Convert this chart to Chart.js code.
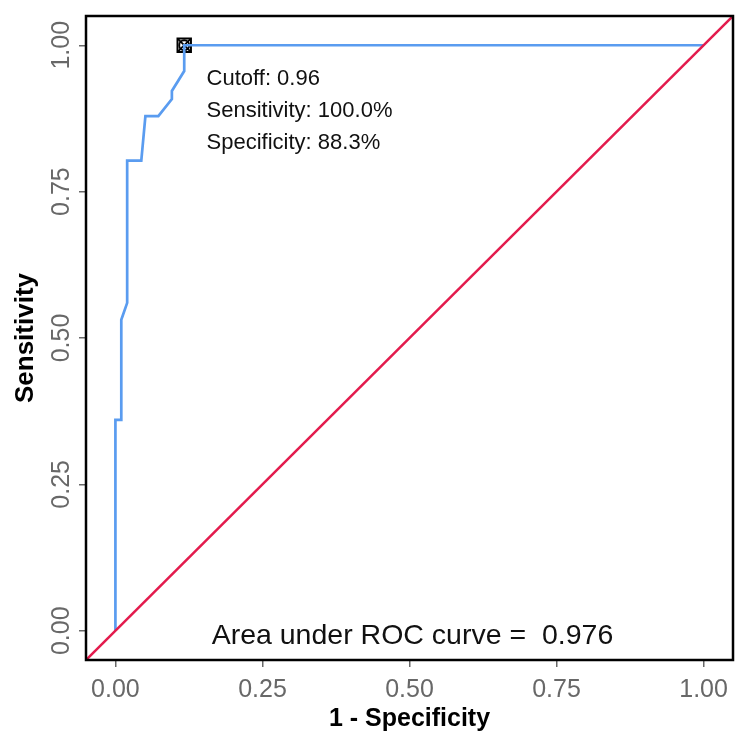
<!DOCTYPE html>
<html>
<head>
<meta charset="utf-8">
<script src="https://cdn.jsdelivr.net/npm/chart.js@4.4.1/dist/chart.umd.min.js"></script>
<style>
  html, body { margin: 0; padding: 0; background: #fff; }
  #wrap { width: 750px; height: 750px; }
</style>
</head>
<body>
<div id="wrap"><canvas id="roc"></canvas></div>
<script>
/* ROC curve, ggplot-style look */

// ROC curve steps (1 - specificity, sensitivity)
const rocFpr = [0, 0, 0.01, 0.01, 0.02, 0.02, 0.044, 0.051, 0.073, 0.096, 0.096, 0.117, 0.117, 1];
const rocTpr = [0, 0.36, 0.36, 0.531, 0.56, 0.803, 0.803, 0.879, 0.879, 0.908, 0.922, 0.956, 1, 1];

// chance line
const diagX = [-0.05, 1.05];
const diagY = [-0.05, 1.05];

// best cutoff point
const cutoffPoint = { x: 0.117, y: 1.0 };

const tickVals = [0, 0.25, 0.5, 0.75, 1];
const tickLabels = ['0.00', '0.25', '0.50', '0.75', '1.00'];

const infoLines = ['Cutoff: 0.96', 'Sensitivity: 100.0%', 'Specificity: 88.3%'];
const aucText = 'Area under ROC curve =  0.976';

const FONT = '"Liberation Sans", Arial, Helvetica, sans-serif';
const BLUE = '#5a9cf0';
const RED = '#e31b4d';
const GREY = '#686868';

const zip = (xs, ys) => xs.map((x, i) => ({ x, y: ys[i] }));

const setTicks = (scale) => { scale.ticks = tickVals.map((v) => ({ value: v })); };

// panel border, rotated y tick labels and text annotations
const decorations = {
  id: 'decorations',
  afterDraw(chart) {
    const { ctx, chartArea: a, scales: { x, y } } = chart;
    ctx.save();
    ctx.strokeStyle = '#000';
    ctx.lineWidth = 2.5;
    ctx.strokeRect(a.left, a.top, a.right - a.left, a.bottom - a.top);

    ctx.fillStyle = GREY;
    ctx.font = `25px ${FONT}`;
    ctx.textAlign = 'center';
    ctx.textBaseline = 'middle';
    tickVals.forEach((v, i) => {
      ctx.save();
      ctx.translate(62, y.getPixelForValue(v));
      ctx.rotate(-Math.PI / 2);
      ctx.fillText(tickLabels[i], 0, 0);
      ctx.restore();
    });

    ctx.fillStyle = '#111';
    ctx.textAlign = 'left';
    ctx.textBaseline = 'alphabetic';
    ctx.font = `22px ${FONT}`;
    infoLines.forEach((t, i) => {
      ctx.fillText(t, x.getPixelForValue(0.155), y.getPixelForValue(0.932) + i * 32);
    });

    ctx.font = `28.5px ${FONT}`;
    ctx.textAlign = 'center';
    ctx.fillText(aucText, x.getPixelForValue(0.505), y.getPixelForValue(-0.022));
    ctx.restore();
  },
};

new Chart(document.getElementById('roc'), {
  type: 'scatter',
  data: {
    datasets: [
      {
        data: zip(diagX, diagY), showLine: true, borderColor: RED, borderWidth: 2.5,
        pointRadius: 0, tension: 0,
      },
      {
        data: zip(rocFpr, rocTpr), showLine: true, borderColor: BLUE, borderWidth: 2.7,
        pointRadius: 0, tension: 0,
      },
      {
        data: [cutoffPoint], pointStyle: 'rect', pointRadius: 9.5,
        pointBorderColor: '#000', pointBackgroundColor: 'rgba(0,0,0,0)', pointBorderWidth: 2,
      },
      {
        data: [cutoffPoint], pointStyle: 'crossRot', pointRadius: 9,
        pointBorderColor: '#000', pointBorderWidth: 1.8,
      },
      {
        data: [cutoffPoint], pointStyle: 'circle', pointRadius: 5,
        pointBorderColor: '#000', pointBackgroundColor: 'rgba(0,0,0,0)', pointBorderWidth: 1.8,
      },
    ],
  },
  options: {
    responsive: true, maintainAspectRatio: false, animation: false,
    layout: { padding: { top: 16, right: 17, left: 0, bottom: 0 } },
    plugins: { legend: { display: false }, tooltip: { enabled: false } },
    scales: {
      x: {
        type: 'linear', min: -0.05, max: 1.05,
        afterBuildTicks: setTicks,
        afterFit: (s) => { s.height = 90; },
        grid: { drawOnChartArea: false, drawTicks: true, tickLength: 7, color: GREY, lineWidth: 1.5 },
        border: { display: false },
        ticks: {
          color: GREY, font: { family: FONT, size: 25 }, padding: 8, maxRotation: 0,
          callback: (v) => tickLabels[tickVals.indexOf(v)] ?? '',
        },
        title: {
          display: true, text: '1 - Specificity', color: '#000',
          font: { family: FONT, size: 25, weight: 'bold', lineHeight: 1.2 },
          padding: { top: 0, bottom: 16 },
        },
      },
      y: {
        type: 'linear', min: -0.05, max: 1.05,
        afterBuildTicks: setTicks,
        afterFit: (s) => { s.width = 86; },
        grid: { drawOnChartArea: false, drawTicks: true, tickLength: 7, color: GREY, lineWidth: 1.5 },
        border: { display: false },
        ticks: { display: false },
        title: {
          display: true, text: 'Sensitivity', color: '#000',
          font: { family: FONT, size: 26, weight: 'bold', lineHeight: 1.2 },
          padding: { top: 10, bottom: 0 },
        },
      },
    },
  },
  plugins: [decorations],
});
</script>
</body>
</html>
